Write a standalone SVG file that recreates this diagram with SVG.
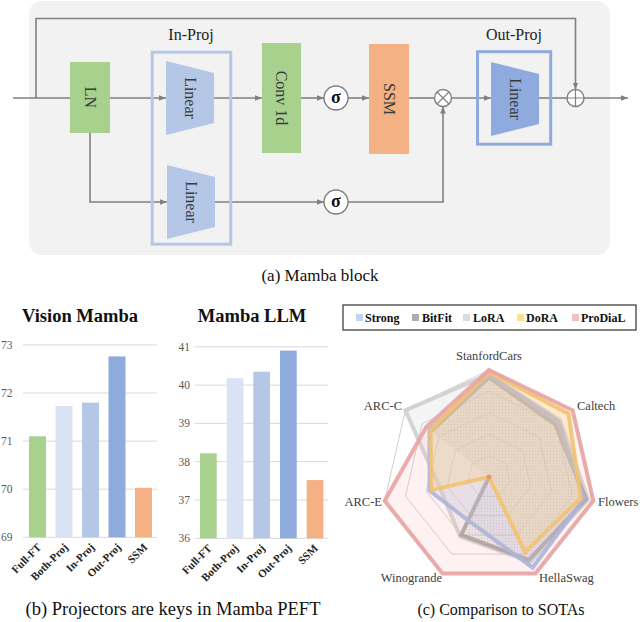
<svg xmlns="http://www.w3.org/2000/svg" xmlns:xlink="http://www.w3.org/1999/xlink" width="640" height="622" viewBox="0 0 640 622">
<style>
text{font-family:"Liberation Serif","Times New Roman",serif;}
.ln{fill:none;stroke:#808080;stroke-width:1.6;}
.lbl{font-size:16px;fill:#3a3a3a;text-anchor:middle;}
.sig{font-size:18px;font-weight:bold;fill:#111;text-anchor:middle;}
.op{fill:#fff;stroke:#808080;stroke-width:1.4;}
.opl{stroke:#808080;stroke-width:1.2;}
.cap{font-size:17px;fill:#111;text-anchor:middle;}
.ttl{font-size:18.5px;font-weight:bold;fill:#111;text-anchor:middle;}
.yl{font-size:11.5px;fill:#595959;text-anchor:end;}
.xl{font-size:11px;font-weight:bold;fill:#222;text-anchor:end;}
.grid{stroke:#d9d9d9;stroke-width:1;}
.rg{fill:none;stroke:#c9c9c9;stroke-width:0.9;}
.rl{font-size:12.5px;fill:#404040;}
.lg{font-size:12px;font-weight:bold;fill:#111;}
.ser{stroke-width:4;stroke-linejoin:miter;}
</style>
<defs>
<marker id="ah" viewBox="0 0 10 10" refX="10" refY="5" markerWidth="7" markerHeight="7" orient="auto" markerUnits="userSpaceOnUse">
<path d="M0,1 L10,5 L0,9 z" fill="#808080"/>
</marker>
<polygon id="hp" points="0,-107 83.66,-66.71 104.32,23.81 46.43,96.40 -46.43,96.40 -104.32,23.81 -83.66,-66.71" vector-effect="non-scaling-stroke"/>
<pattern id="dots" width="3" height="3" patternUnits="userSpaceOnUse">
<rect width="3" height="3" fill="#a6a6a6" fill-opacity="0.12"/>
<rect x="1" y="1" width="1" height="1" fill="#8c8c8c" fill-opacity="0.35"/>
</pattern>
</defs>
<rect width="640" height="622" fill="#fff"/>

<!-- (a) Mamba block -->
<rect id="block-bg" x="29" y="1" width="581" height="254" rx="13" fill="#f2f2f2"/>

<g id="connectors">
<path class="ln" d="M13,98 H70"/>
<path class="ln" d="M36,98 V18.5 H575.5 V89.5" marker-end="url(#ah)"/>
<path class="ln" d="M110,98 H166" marker-end="url(#ah)"/>
<path class="ln" d="M90,133 V202 H167" marker-end="url(#ah)"/>
<path class="ln" d="M214,98 H262" marker-end="url(#ah)"/>
<path class="ln" d="M301,98 H324" marker-end="url(#ah)"/>
<path class="ln" d="M348,98 H369" marker-end="url(#ah)"/>
<path class="ln" d="M409,98 H434.5"/>
<path class="ln" d="M215,202 H324" marker-end="url(#ah)"/>
<path class="ln" d="M348,202 H443 V106.5" marker-end="url(#ah)"/>
<path class="ln" d="M451.5,98 H491" marker-end="url(#ah)"/>
<path class="ln" d="M539,98 H567"/>
<path class="ln" d="M584,98 H628" marker-end="url(#ah)"/>
</g>

<g id="ln-node">
<rect x="70" y="62" width="40" height="71" fill="#a9d18e"/>
<text class="lbl" transform="translate(90,97.5) rotate(90)" y="5.5">LN</text>
</g>

<g id="in-proj">
<rect x="152.2" y="52.2" width="78.5" height="192" fill="none" stroke="#b4c7e7" stroke-width="3"/>
<text class="lbl" x="191" y="40" style="fill:#222">In-Proj</text>
<polygon points="166,61 214,73 214,123 166,135" fill="#b4c7e7"/>
<text class="lbl" transform="translate(190,98) rotate(90)" y="5.5">Linear</text>
<polygon points="167,165 215,177 215,227 167,239" fill="#b4c7e7"/>
<text class="lbl" transform="translate(191,202) rotate(90)" y="5.5">Linear</text>
</g>

<g id="conv1d">
<rect x="262" y="43" width="39" height="110" fill="#a9d18e"/>
<text class="lbl" transform="translate(281.5,98) rotate(90)" y="5.5">Conv 1d</text>
</g>

<g id="sigma1">
<circle class="op" cx="336" cy="98" r="12"/>
<text class="sig" x="336" y="103">σ</text>
</g>

<g id="ssm">
<rect x="369" y="44" width="40" height="110" fill="#f4b183"/>
<text class="lbl" transform="translate(389,99) rotate(90)" y="5.5">SSM</text>
</g>

<g id="mul">
<circle class="op" cx="443" cy="98" r="8.5"/>
<path class="opl" d="M437,92 L449,104 M449,92 L437,104"/>
</g>

<g id="sigma2">
<circle class="op" cx="336" cy="202" r="12"/>
<text class="sig" x="336" y="207">σ</text>
</g>

<g id="out-proj">
<rect x="477.5" y="51.7" width="73.2" height="92.5" fill="none" stroke="#8faadc" stroke-width="3"/>
<text class="lbl" x="514" y="40" style="fill:#222">Out-Proj</text>
<polygon points="491,62 539,74 539,124 491,136" fill="#8faadc"/>
<text class="lbl" transform="translate(515,99) rotate(90)" y="5.5">Linear</text>
</g>

<g id="add">
<circle class="op" cx="575.5" cy="98" r="8.5"/>
<path class="opl" d="M575.5,89.5 V106.5 M567,98 H584"/>
</g>

<text class="cap" x="320" y="281">(a) Mamba block</text>

<!-- (b) bar charts -->
<g id="chart-vision">
<text class="ttl" x="80" y="322">Vision Mamba</text>
<g class="grid">
<line x1="23" y1="344.9" x2="157" y2="344.9"/>
<line x1="23" y1="393.0" x2="157" y2="393.0"/>
<line x1="23" y1="441.1" x2="157" y2="441.1"/>
<line x1="23" y1="489.2" x2="157" y2="489.2"/>
<line x1="23" y1="537.3" x2="157" y2="537.3"/>
</g>
<text class="yl" x="12.5" y="348.9">73</text>
<text class="yl" x="12.5" y="397.0">72</text>
<text class="yl" x="12.5" y="445.1">71</text>
<text class="yl" x="12.5" y="493.2">70</text>
<text class="yl" x="12.5" y="541.3">69</text>
<rect x="29" y="436.3" width="17" height="101" fill="#a9d18e"/>
<rect x="55.5" y="406" width="17" height="131.3" fill="#dae3f3"/>
<rect x="82" y="402.6" width="17" height="134.7" fill="#b4c7e7"/>
<rect x="108.5" y="356.4" width="17" height="180.9" fill="#8faadc"/>
<rect x="135" y="487.8" width="17" height="49.5" fill="#f4b183"/>
<text class="xl" transform="translate(42,548) rotate(-45)">Full-FT</text>
<text class="xl" transform="translate(68.5,548) rotate(-45)">Both-Proj</text>
<text class="xl" transform="translate(95,548) rotate(-45)">In-Proj</text>
<text class="xl" transform="translate(121.5,548) rotate(-45)">Out-Proj</text>
<text class="xl" transform="translate(148,548) rotate(-45)">SSM</text>
</g>

<g id="chart-llm">
<text class="ttl" x="252" y="322">Mamba LLM</text>
<g class="grid">
<line x1="195" y1="346.8" x2="328" y2="346.8"/>
<line x1="195" y1="385.1" x2="328" y2="385.1"/>
<line x1="195" y1="423.4" x2="328" y2="423.4"/>
<line x1="195" y1="461.7" x2="328" y2="461.7"/>
<line x1="195" y1="500.0" x2="328" y2="500.0"/>
<line x1="195" y1="538.3" x2="328" y2="538.3"/>
</g>
<text class="yl" x="190" y="350.8">41</text>
<text class="yl" x="190" y="389.1">40</text>
<text class="yl" x="190" y="427.4">39</text>
<text class="yl" x="190" y="465.7">38</text>
<text class="yl" x="190" y="504.0">37</text>
<text class="yl" x="190" y="542.3">36</text>
<rect x="200" y="453.3" width="16.7" height="85" fill="#a9d18e"/>
<rect x="226.7" y="378.2" width="16.7" height="160.1" fill="#dae3f3"/>
<rect x="253.3" y="371.7" width="16.7" height="166.6" fill="#b4c7e7"/>
<rect x="280" y="350.6" width="16.7" height="187.7" fill="#8faadc"/>
<rect x="306.7" y="480.1" width="16.7" height="58.2" fill="#f4b183"/>
<text class="xl" transform="translate(212.5,549) rotate(-45)">Full-FT</text>
<text class="xl" transform="translate(239,549) rotate(-45)">Both-Proj</text>
<text class="xl" transform="translate(265.5,549) rotate(-45)">In-Proj</text>
<text class="xl" transform="translate(292,549) rotate(-45)">Out-Proj</text>
<text class="xl" transform="translate(318.5,549) rotate(-45)">SSM</text>
</g>

<text class="cap" x="173" y="615" style="font-size:18.5px">(b) Projectors are keys in Mamba PEFT</text>

<!-- (c) radar -->
<g id="legend">
<rect x="343" y="305" width="293" height="25" fill="#fff" stroke="#404040" stroke-width="1.3"/>
<rect x="356" y="314" width="7" height="7" fill="#c5d4ee"/>
<text class="lg" x="365" y="321.5">Strong</text>
<rect x="412" y="314" width="7" height="7" fill="#adadad"/>
<text class="lg" x="422" y="321.5">BitFit</text>
<rect x="463" y="314" width="7" height="7" fill="#dcdcdc"/>
<text class="lg" x="473" y="321.5">LoRA</text>
<rect x="517" y="314" width="7" height="7" fill="#ffe08a"/>
<text class="lg" x="526" y="321.5">DoRA</text>
<rect x="572" y="314" width="7" height="7" fill="#f2c0c0"/>
<text class="lg" x="581" y="321.5">ProDiaL</text>
</g>

<g id="radar">
<g class="rg">
<use xlink:href="#hp" href="#hp" transform="translate(489 477) scale(0.2)"/>
<use xlink:href="#hp" href="#hp" transform="translate(489 477) scale(0.4)"/>
<use xlink:href="#hp" href="#hp" transform="translate(489 477) scale(0.6)"/>
<use xlink:href="#hp" href="#hp" transform="translate(489 477) scale(0.8)"/>
<use xlink:href="#hp" href="#hp" transform="translate(489 477)"/>
</g>
<g id="s-lora">
<polygon class="ser" points="489,374.28 560.11,420.30 588.10,499.62 529.86,561.83 460.21,536.77 439.97,488.19 405.34,410.29" fill="#d9d9d9" fill-opacity="0.3" stroke="#cfcfcf" stroke-opacity="0.9"/>
</g>
<g id="s-bitfit">
<polygon points="489,377.49 555.09,424.30 586.02,499.14 528.93,559.90 461.14,534.84 489,477 431.27,430.97" fill="url(#dots)"/>
<polyline class="ser" points="431.27,430.97 489,377.49 555.09,424.30 586.02,499.14 528.93,559.90 461.14,534.84 489,477" fill="none" stroke="#9a9a9a" stroke-opacity="0.85"/>
</g>
<g id="s-strong">
<polygon class="ser" points="489,375.35 558.44,421.63 583.93,498.67 532.64,567.62 468.11,520.38 429.54,490.57 429.60,429.64" fill="#b4c7e7" fill-opacity="0.25" stroke="#9fb4e0" stroke-opacity="0.9"/>
</g>
<g id="s-dora">
<polygon class="ser" points="489,372.14 568.48,413.63 580.80,497.95 525.22,552.19 489,477 431.62,490.10 430.44,430.30" fill="#ffd966" fill-opacity="0.25" stroke="#f2c45e" stroke-opacity="0.9"/>
</g>
<g id="s-prodial">
<polygon class="ser" points="489,370 572.66,410.29 593.32,500.81 535.43,573.40 442.57,573.40 384.68,500.81 426.25,426.97" fill="#f4b8b8" fill-opacity="0.2" stroke="#e8a3a3" stroke-opacity="0.9"/>
</g>
<circle cx="489" cy="477" r="2.5" fill="#e39a6a"/>
<text class="rl" x="489" y="360" text-anchor="middle">StanfordCars</text>
<text class="rl" x="577" y="410">Caltech</text>
<text class="rl" x="598" y="506">Flowers</text>
<text class="rl" x="539" y="582">HellaSwag</text>
<text class="rl" x="442" y="582" text-anchor="end">Winogrande</text>
<text class="rl" x="382" y="506" text-anchor="end">ARC-E</text>
<text class="rl" x="402" y="410" text-anchor="end">ARC-C</text>
</g>

<text class="cap" x="501" y="615" style="font-size:16px">(c) Comparison to SOTAs</text>
</svg>
